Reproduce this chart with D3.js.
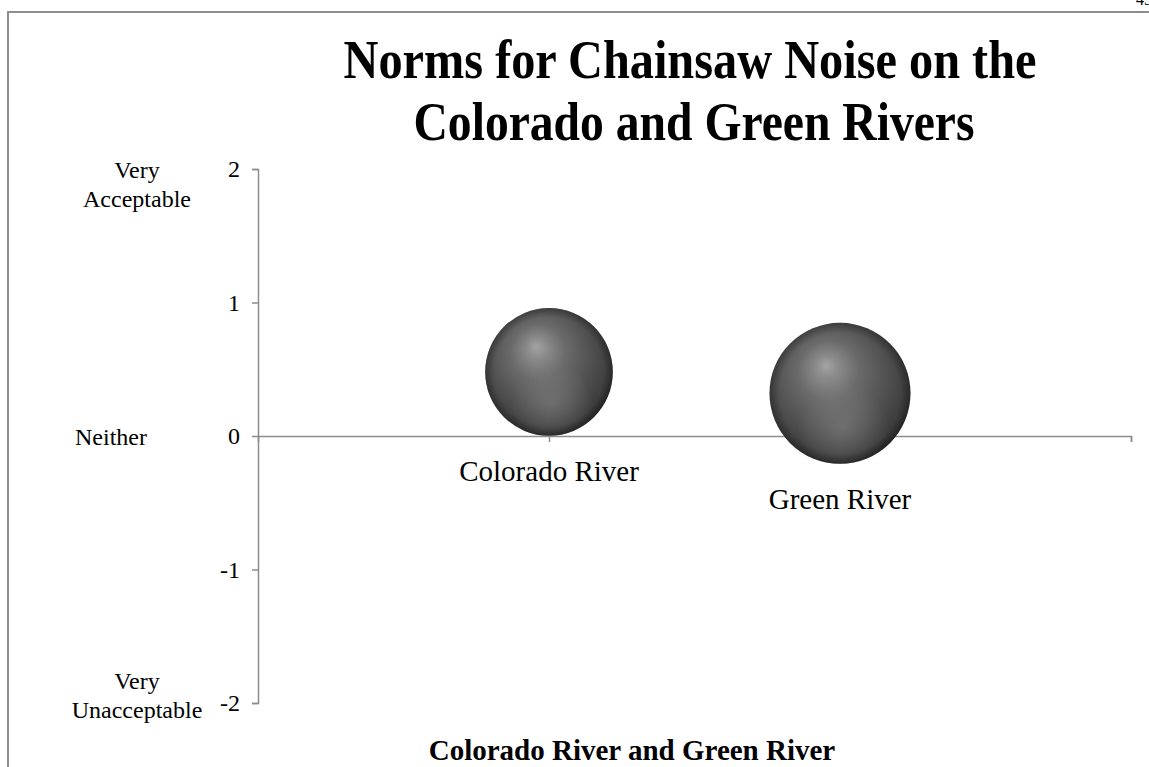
<!DOCTYPE html>
<html>
<head>
<meta charset="utf-8">
<script src="https://cdn.jsdelivr.net/npm/d3@7"></script>
<style>
  html, body { margin: 0; padding: 0; background: #fff; }
  svg { display: block; }
  text { font-family: "Liberation Serif", "Times New Roman", serif; fill: #000; }
</style>
</head>
<body>
<svg id="chart" width="1149" height="767"></svg>
<script>
// Norms data: mean acceptability rating per river, bubble size = sample weight
const rivers = ["Colorado River", "Green River"];
const riverPosition = [1, 2];
const meanNorm = [0.48, 0.32];
const bubbleSize = [82, 100];

const yTicks = [-2, -1, 0, 1, 2];
const yAnchorValues = [2, 0, -2];
const yAnchorText = [["Very", "Acceptable"], ["Neither"], ["Very", "Unacceptable"]];
const xTicks = [1, 2, 3];

const svg = d3.select("#chart");
const W = 1149, H = 767;

// page frame
svg.append("path")
  .attr("d", `M8,${H} V12 H${W}`)
  .attr("fill", "none")
  .attr("stroke", "#8c8c8c")
  .attr("stroke-width", 2);

// page number
svg.append("text")
  .attr("x", 1136).attr("y", 5)
  .attr("font-size", 16)
  .text("45");

const plot = { left: 258, right: 1131, top: 169, bottom: 703 };

const x = d3.scaleLinear().domain([0, 3]).range([plot.left, plot.right]);
const y = d3.scaleLinear().domain([-2, 2]).range([plot.bottom, plot.top]);
const r = d3.scaleSqrt().domain([0, d3.max(bubbleSize)]).range([0, 70.5]);

// sphere shading
const defs = svg.append("defs");
const g1 = defs.append("radialGradient")
  .attr("id", "sphere")
  .attr("cx", "0.45").attr("cy", "0.42").attr("r", "0.62")
  .attr("fx", "0.4").attr("fy", "0.3");
[
  [0, "#a4a4a4"], [0.12, "#8c8c8c"], [0.35, "#6a6a6a"],
  [0.65, "#505050"], [0.88, "#3c3c3c"], [1, "#2a2a2a"]
].forEach(([o, c]) => g1.append("stop").attr("offset", o).attr("stop-color", c));

const g2 = defs.append("radialGradient")
  .attr("id", "glow")
  .attr("cx", "0.52").attr("cy", "0.74").attr("r", "0.32");
g2.append("stop").attr("offset", 0).attr("stop-color", "#8a8a8a").attr("stop-opacity", 0.5);
g2.append("stop").attr("offset", 1).attr("stop-color", "#8a8a8a").attr("stop-opacity", 0);

const g3 = defs.append("radialGradient")
  .attr("id", "rim")
  .attr("cx", "0.5").attr("cy", "0.5").attr("r", "0.5");
g3.append("stop").attr("offset", 0.86).attr("stop-color", "#000").attr("stop-opacity", 0);
g3.append("stop").attr("offset", 1).attr("stop-color", "#000").attr("stop-opacity", 0.28);

// y axis
const yAxis = d3.axisLeft(y).tickValues(yTicks).tickSize(6).tickPadding(12).tickFormat(d3.format("d"));
const yg = svg.append("g").attr("transform", `translate(${plot.left},0)`).call(yAxis);
yg.select(".domain").attr("stroke", "#8c8c8c").attr("stroke-width", 1.5);
yg.selectAll(".tick line").attr("stroke", "#8c8c8c").attr("stroke-width", 1.5);
yg.selectAll(".tick text")
  .attr("font-family", "Liberation Serif, serif")
  .attr("font-size", 24)
  .attr("fill", "#000")
  .text(d => d < 0 ? "-" + Math.abs(d) : d);

// x axis along zero
const xAxis = d3.axisBottom(x).tickValues(xTicks).tickSize(6).tickFormat("");
const xg = svg.append("g").attr("transform", `translate(0,${y(0)})`).call(xAxis);
xg.select(".domain").attr("stroke", "#8c8c8c").attr("stroke-width", 1.5);
xg.selectAll(".tick line").attr("stroke", "#8c8c8c").attr("stroke-width", 1.5);

// verbal anchors beside the rating scale (first-line baseline offset from tick)
const anchorDy = [9, 9, -14];
yAnchorValues.forEach((v, k) => {
  const lines = yAnchorText[k];
  const t = svg.append("text")
    .attr("text-anchor", "middle")
    .attr("font-size", 24);
  lines.forEach((ln, i) => {
    t.append("tspan")
      .attr("x", lines.length > 1 ? 137 : 111)
      .attr("y", y(v) + anchorDy[k] + i * 29)
      .text(ln);
  });
});

// bubbles
const data = rivers.map((name, i) => ({ name, xv: riverPosition[i], yv: meanNorm[i], s: bubbleSize[i] }));
const b = svg.append("g").selectAll("g").data(data).join("g")
  .attr("transform", d => `translate(${x(d.xv)},${y(d.yv)})`);
b.append("circle").attr("r", d => r(d.s)).attr("fill", "url(#sphere)");
b.append("circle").attr("r", d => r(d.s)).attr("fill", "url(#glow)");
b.append("circle").attr("r", d => r(d.s)).attr("fill", "url(#rim)");

// data labels below bubbles
b.append("text")
  .attr("text-anchor", "middle")
  .attr("font-size", 29)
  .attr("y", d => r(d.s) + 45)
  .text(d => d.name);

// title
const title = svg.append("text")
  .attr("text-anchor", "middle")
  .attr("font-weight", "bold")
  .attr("font-size", 54);
title.append("tspan").attr("x", 690).attr("y", 78)
  .attr("textLength", 693).attr("lengthAdjust", "spacingAndGlyphs")
  .text("Norms for Chainsaw Noise on the");
title.append("tspan").attr("x", 694).attr("y", 140)
  .attr("textLength", 561).attr("lengthAdjust", "spacingAndGlyphs")
  .text("Colorado and Green Rivers");

// axis title
svg.append("text")
  .attr("x", 632).attr("y", 760)
  .attr("text-anchor", "middle")
  .attr("font-weight", "bold")
  .attr("font-size", 29)
  .text("Colorado River and Green River");
</script>
</body>
</html>
